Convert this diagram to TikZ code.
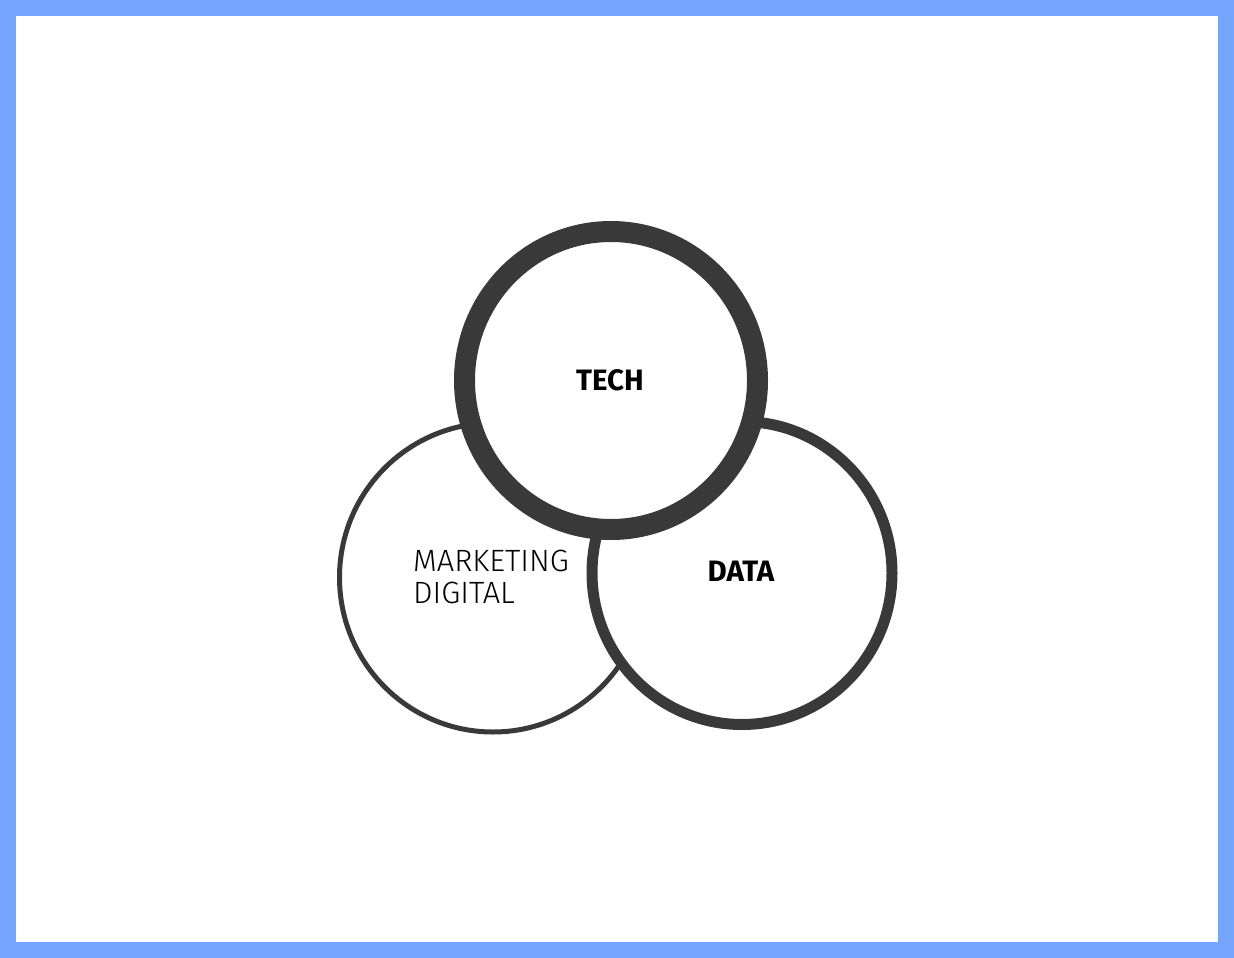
\documentclass[tikz,border=0pt]{standalone}
\usepackage{fontspec}
\usetikzlibrary{shapes.geometric}
\setmainfont{Fira Sans}
\newfontfamily\lightfont{Fira Sans Light}
\definecolor{frameblue}{HTML}{74A5FF}
\definecolor{ring}{HTML}{393939}
\tikzset{
  ringbase/.style={ellipse, draw=ring, fill=white, inner sep=0pt, outer sep=0pt},
  boldlabel/.style={font=\fontsize{29.5}{32}\selectfont\bfseries, text=black, inner sep=0pt},
  lightlabel/.style={font=\fontsize{30.8}{32}\selectfont\lightfont, text=black, inner sep=0pt, anchor=base west}
}
\begin{document}
\begin{tikzpicture}[x=1pt,y=-1pt]
\useasboundingbox (0,0) rectangle (1234,958);
\fill[frameblue] (0,0) rectangle (1234,958);
\fill[white] (16,16) rectangle (1218,942);
\node[ringbase, line width=5pt, minimum width=307pt, minimum height=309pt] (mkt) at (493,577.5) {};
\node[ringbase, line width=11pt, minimum width=300pt, minimum height=303pt] (data) at (742,573) {};
\node[ringbase, line width=21pt, minimum width=293pt, minimum height=298pt] (tech) at (611,380.5) {};
\node[boldlabel] (techlabel) at (610,380) {TECH};
\node[boldlabel] (datalabel) at (741,571) {DATA};
\node[lightlabel] (mktlabelA) at (413,571) {MARKETING};
\node[lightlabel] (mktlabelB) at (413,603) {DIGITAL};
\end{tikzpicture}
\end{document}
